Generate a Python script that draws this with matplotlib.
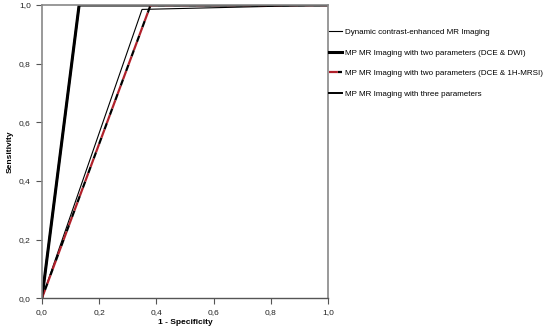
import matplotlib
matplotlib.use("Agg")
import matplotlib.pyplot as plt

plt.rcParams['font.family'] = ['Liberation Sans', 'DejaVu Sans']

# ROC points (1 - specificity, sensitivity)
dce_x = [0.0, 0.35, 1.0]
dce_y = [0.0, 0.985, 1.0]
dwi_x = [0.0, 0.13, 1.0]
dwi_y = [0.0, 1.0, 1.0]
mrsi_x = [0.0, 0.38, 1.0]
mrsi_y = [0.0, 1.0, 1.0]
three_x = [0.0, 0.13, 1.0]
three_y = [0.0, 1.0, 1.0]

labels = [
    "Dynamic contrast-enhanced MR Imaging",
    "MP MR Imaging with two parameters (DCE & DWI)",
    "MP MR Imaging with two parameters (DCE & 1H-MRSI)",
    "MP MR Imaging with three parameters",
]
ticks = [0.0, 0.2, 0.4, 0.6, 0.8, 1.0]
tick_labels = ["0,0", "0,2", "0,4", "0,6", "0,8", "1,0"]

fig = plt.figure(figsize=(5.52, 3.35), dpi=100)
ax = fig.add_axes([0.076, 0.110, 0.518, 0.875])

l1, = ax.plot(dce_x, dce_y, color="black", lw=0.8, label=labels[0])
l2, = ax.plot(dwi_x, dwi_y, color="black", lw=2.2, label=labels[1])
l3, = ax.plot(mrsi_x, mrsi_y, color="#b0202a", lw=1.6, linestyle=(0, (4, 3)),
              gapcolor="black", label=labels[2])
l4, = ax.plot(three_x, three_y, color="black", lw=1.4, label=labels[3])

ax.set_xlim(0, 1)
ax.set_ylim(0, 1)
ax.set_xticks(ticks)
ax.set_xticklabels(tick_labels)
ax.set_yticks(ticks)
ax.set_yticklabels(tick_labels)
ax.tick_params(direction="out", length=4, width=0.8, colors="#555555",
               labelsize=6, labelcolor="#222222", pad=4)

for side in ["left", "right", "top"]:
    ax.spines[side].set_color("#888888")
    ax.spines[side].set_linewidth(1.2)
ax.spines["bottom"].set_color("#555555")
ax.spines["bottom"].set_linewidth(1.0)

ax.set_xlabel("1 - Specificity", fontsize=6, fontweight="bold")
ax.set_ylabel("Sensitivity", fontsize=6, fontweight="bold")
ax.xaxis.set_label_coords(0.5, -0.082)
ax.yaxis.set_label_coords(-0.112, 0.5)
ax.xaxis.label.set_va("center")
ax.yaxis.label.set_va("center")

fig.legend(handles=[l1, l2, l3, l4], labels=labels,
           loc="upper left", bbox_to_anchor=(0.590, 0.925),
           frameon=False, fontsize=5.8, handlelength=1.6, handletextpad=0.4,
           labelspacing=1.6, borderaxespad=0)

fig.savefig("out.png", dpi=100)
